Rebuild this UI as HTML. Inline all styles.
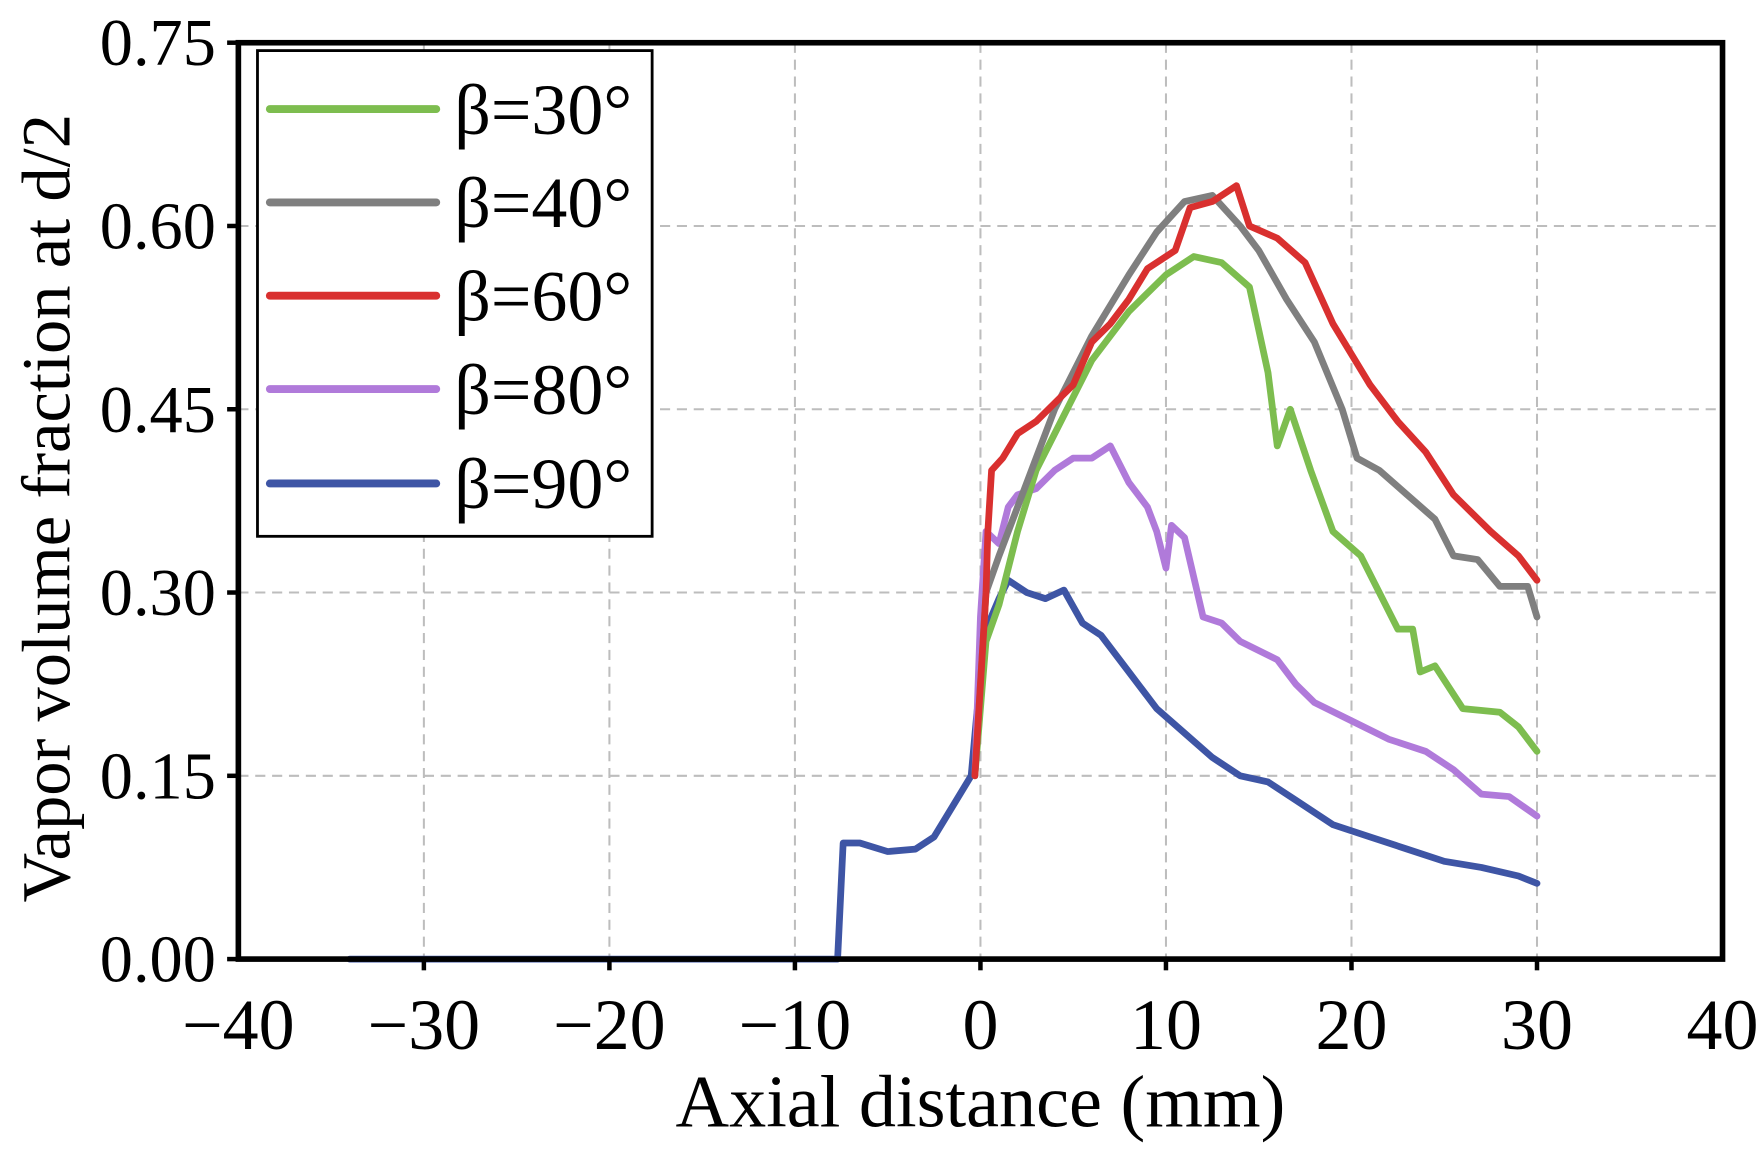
<!DOCTYPE html>
<html><head><meta charset="utf-8"><style>
html,body{margin:0;padding:0;background:#fff;}
svg{display:block;}
text{font-family:"Liberation Serif",serif;fill:#000;}
</style></head><body>
<svg id="s" width="1763" height="1150" viewBox="0 0 1568 1022.8" preserveAspectRatio="none" xmlns="http://www.w3.org/2000/svg">
<g id="grid" stroke="#bdbdbd" stroke-width="1.8" stroke-dasharray="9,6" fill="none"></g>
<g id="series" fill="none" stroke-width="6" stroke-linejoin="round" stroke-linecap="round"></g>
<rect x="212" y="38" width="1320" height="815" fill="none" stroke="#000" stroke-width="5"/>
<g id="ticks" stroke="#000" stroke-width="4"></g>
<rect x="229" y="45" width="351" height="432" fill="#fff" stroke="#000" stroke-width="2.5"/>
<g stroke-width="7" stroke-linecap="round">
<line x1="240" y1="97" x2="388" y2="97" stroke="#7dbd4f"/>
<line x1="240" y1="180" x2="388" y2="180" stroke="#7f7f7f"/>
<line x1="240" y1="263" x2="388" y2="263" stroke="#d9302f"/>
<line x1="240" y1="346" x2="388" y2="346" stroke="#b07ada"/>
<line x1="240" y1="430" x2="388" y2="430" stroke="#3e55a5"/>
</g>
<g font-size="64">
<text x="404" y="119">β=30°</text>
<text x="404" y="202">β=40°</text>
<text x="404" y="285">β=60°</text>
<text x="404" y="368">β=80°</text>
<text x="404" y="452">β=90°</text>
</g>
<g font-size="59" text-anchor="end">
<text x="192" y="873">0.00</text>
<text x="192" y="710">0.15</text>
<text x="192" y="547">0.30</text>
<text x="192" y="384">0.45</text>
<text x="192" y="221">0.60</text>
<text x="192" y="58">0.75</text>
</g>
<g font-size="64" text-anchor="middle">
<text x="212" y="933">−40</text>
<text x="377" y="933">−30</text>
<text x="542" y="933">−20</text>
<text x="707" y="933">−10</text>
<text x="872" y="933">0</text>
<text x="1037" y="933">10</text>
<text x="1202" y="933">20</text>
<text x="1367" y="933">30</text>
<text x="1532" y="933">40</text>
<text x="872" y="1002" font-size="66">Axial distance (mm)</text>
<text transform="translate(62,452) rotate(-90)" font-size="61">Vapor volume fraction at d/2</text>
</g>
</svg>
<script>
var NS="http://www.w3.org/2000/svg";
function px(x){return 872+16.5*x;} function py(y){return 853-1086.7*y;}
var g=document.getElementById('grid'),t=document.getElementById('ticks');
function ln(p,a,b,c,d){var l=document.createElementNS(NS,'line');l.setAttribute('x1',a);l.setAttribute('y1',b);l.setAttribute('x2',c);l.setAttribute('y2',d);p.appendChild(l);}
for(var x=-30;x<=30;x+=10){ln(g,px(x),38,px(x),853);ln(t,px(x),853,px(x),863);}
for(var y=0.15;y<0.7;y+=0.15){ln(g,212,py(y),1532,py(y));}
for(var y=0;y<0.8;y+=0.15){ln(t,202,py(y),212,py(y));}
var S=[
["#3e55a5",[[-34,0],[-7.7,0],[-7.4,0.095],[-6.5,0.095],[-5,0.088],[-3.5,0.09],[-2.5,0.1],[-1.5,0.125],[-0.5,0.15],[-0.2,0.2],[0.3,0.27],[1,0.295],[1.5,0.31],[2.5,0.3],[3.5,0.295],[4.5,0.302],[5.5,0.275],[6.5,0.265],[8,0.235],[9.5,0.205],[11,0.185],[12.5,0.165],[14,0.15],[15.5,0.145],[17,0.13],[19,0.11],[21,0.1],[23,0.09],[25,0.08],[27,0.075],[29,0.068],[30,0.062]]],
["#b07ada",[[-0.3,0.15],[0,0.28],[0.3,0.35],[1,0.34],[1.5,0.37],[2,0.38],[3,0.385],[4,0.4],[5,0.41],[6,0.41],[7,0.42],[8,0.39],[9,0.37],[9.5,0.35],[10,0.32],[10.3,0.355],[11,0.345],[12,0.28],[13,0.275],[14,0.26],[16,0.245],[17,0.225],[18,0.21],[20,0.195],[22,0.18],[24,0.17],[25.5,0.155],[27,0.135],[28.5,0.133],[30,0.117]]],
["#7dbd4f",[[-0.3,0.15],[0.3,0.26],[1,0.29],[2,0.35],[3,0.4],[4,0.43],[6,0.49],[8,0.53],[10,0.56],[11.5,0.575],[13,0.57],[14.5,0.55],[15.5,0.48],[16,0.42],[16.7,0.45],[17.8,0.4],[19,0.35],[20.5,0.33],[22.5,0.27],[23.3,0.27],[23.7,0.235],[24.5,0.24],[26,0.205],[28,0.202],[29,0.19],[30,0.17]]],
["#7f7f7f",[[-0.3,0.15],[0.3,0.3],[1,0.33],[2,0.37],[3,0.41],[4,0.45],[6,0.51],[8,0.56],[9.5,0.595],[11,0.62],[12.5,0.625],[14,0.6],[15,0.58],[16.5,0.54],[18,0.505],[19.5,0.45],[20.3,0.41],[21.5,0.4],[23,0.38],[24.5,0.36],[25.5,0.33],[26.8,0.327],[28,0.305],[29.5,0.305],[30,0.28]]],
["#d9302f",[[-0.3,0.15],[0.3,0.3],[0.4,0.35],[0.6,0.4],[1.2,0.41],[2,0.43],[3,0.44],[4,0.455],[5,0.47],[6,0.505],[7,0.52],[8,0.54],[9,0.565],[10.5,0.58],[11.3,0.615],[12.5,0.62],[13.8,0.633],[14.5,0.6],[16,0.59],[17.5,0.57],[19,0.52],[21,0.47],[22.5,0.44],[24,0.415],[25.5,0.38],[27.5,0.35],[29,0.33],[30,0.31]]]
];
var sg=document.getElementById('series');
S.forEach(function(s){var p=document.createElementNS(NS,'polyline');p.setAttribute('stroke',s[0]);p.setAttribute('points',s[1].map(function(q){return px(q[0])+','+py(q[1]);}).join(' '));sg.appendChild(p);});
</script>
</body></html>
